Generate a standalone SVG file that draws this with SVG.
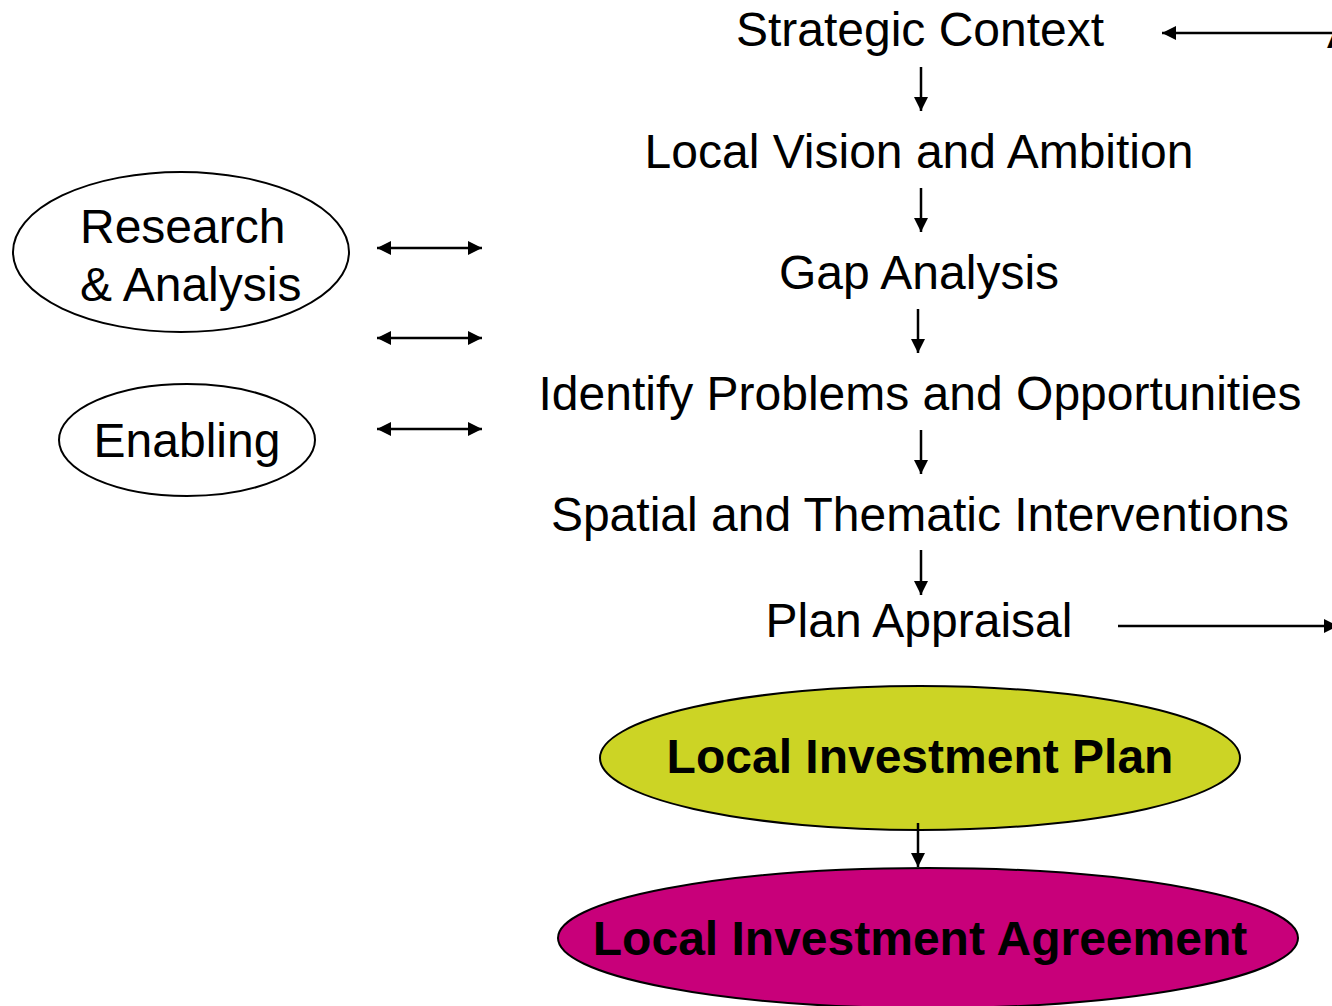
<svg xmlns="http://www.w3.org/2000/svg" width="1332" height="1006" viewBox="0 0 1332 1006">
<style>
text{font-family:"Liberation Sans",Arial,sans-serif;font-size:48px;fill:#000}
.c{text-anchor:middle}
.b{font-weight:bold}
.ln{stroke:#000;stroke-width:2.5;fill:none}
.el{stroke:#000;stroke-width:2}
</style>
<defs>
<marker id="ah" viewBox="0 0 10 10" refX="10" refY="5" markerWidth="14" markerHeight="14" markerUnits="userSpaceOnUse" orient="auto-start-reverse">
<path d="M0,0 L10,5 L0,10 z" fill="#000"/>
</marker>
</defs>
<rect width="1332" height="1006" fill="#fff"/>
<g id="strategic-context"><text class="c" x="920" y="46">Strategic Context</text></g>
<g id="local-vision"><text class="c" x="919" y="168">Local Vision and Ambition</text></g>
<g id="gap-analysis"><text class="c" x="919" y="289">Gap Analysis</text></g>
<g id="identify"><text class="c" x="920" y="410">Identify Problems and Opportunities</text></g>
<g id="spatial"><text class="c" x="920" y="531">Spatial and Thematic Interventions</text></g>
<g id="plan-appraisal"><text class="c" x="919" y="637">Plan Appraisal</text></g>
<g id="offscreen-a"><text x="1327" y="48">A</text></g>
<g id="research">
<ellipse class="el" cx="181" cy="252" rx="168" ry="80" fill="#fff"/>
<text x="80" y="243">Research</text>
<text x="80" y="301">&amp; Analysis</text>
</g>
<g id="enabling">
<ellipse class="el" cx="187" cy="440" rx="128" ry="56" fill="#fff"/>
<text class="c" x="187" y="457">Enabling</text>
</g>
<g id="lip">
<ellipse class="el" cx="920" cy="758" rx="320" ry="72" fill="#CCD425"/>
<text class="c b" x="920" y="773">Local Investment Plan</text>
</g>
<g id="lia">
<ellipse class="el" cx="928" cy="938" rx="370" ry="70" fill="#C8007A"/>
<text class="c b" x="920" y="955">Local Investment Agreement</text>
</g>
<g id="connectors">
<line class="ln" x1="921" y1="67" x2="921" y2="111" marker-end="url(#ah)"/>
<line class="ln" x1="921" y1="188" x2="921" y2="232" marker-end="url(#ah)"/>
<line class="ln" x1="918" y1="309" x2="918" y2="353" marker-end="url(#ah)"/>
<line class="ln" x1="921" y1="430" x2="921" y2="474" marker-end="url(#ah)"/>
<line class="ln" x1="921" y1="550" x2="921" y2="595" marker-end="url(#ah)"/>
<line class="ln" x1="918" y1="823" x2="918" y2="867" marker-end="url(#ah)"/>
<line class="ln" x1="1332" y1="33" x2="1162" y2="33" marker-end="url(#ah)"/>
<line class="ln" x1="1118" y1="626" x2="1338" y2="626" marker-end="url(#ah)"/>
<line class="ln" x1="377" y1="248" x2="482" y2="248" marker-start="url(#ah)" marker-end="url(#ah)"/>
<line class="ln" x1="377" y1="338" x2="482" y2="338" marker-start="url(#ah)" marker-end="url(#ah)"/>
<line class="ln" x1="377" y1="429" x2="482" y2="429" marker-start="url(#ah)" marker-end="url(#ah)"/>
</g>
</svg>
